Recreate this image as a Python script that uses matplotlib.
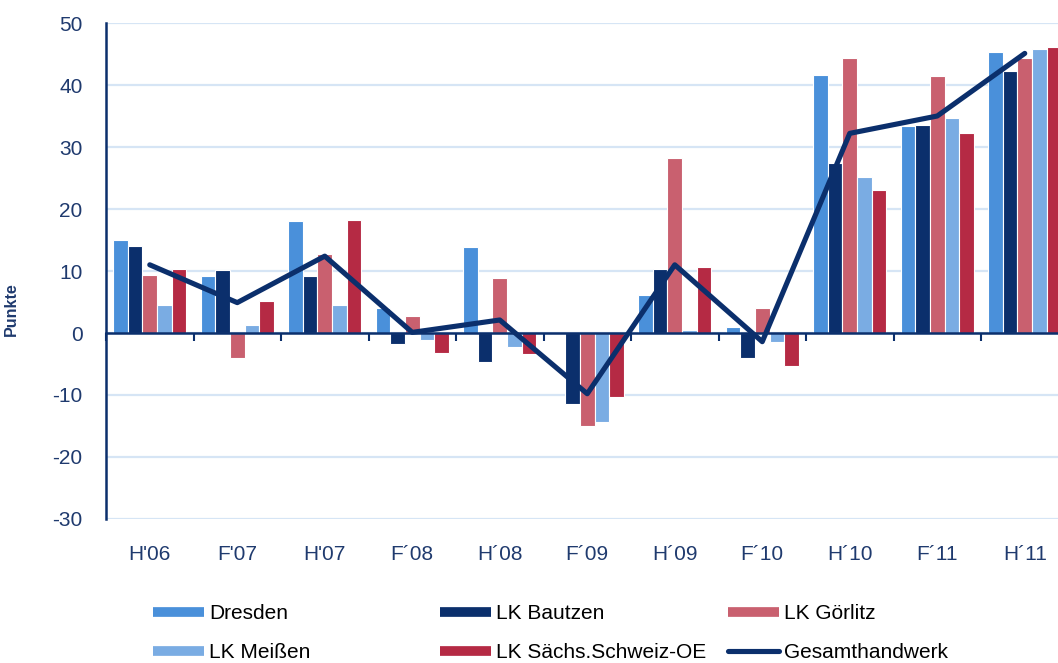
import numpy as np
import matplotlib.pyplot as plt
from matplotlib.lines import Line2D

plt.rcParams['font.family'] = ['Liberation Sans', 'DejaVu Sans']
plt.rcParams['axes.unicode_minus'] = False

# Konjunkturindikator (Punkte) je Umfrage
periods = ["H'06", "F'07", "H'07", "F´08", "H´08", "F´09", "H´09", "F´10", "H´10", "F´11", "H´11"]
dresden = [15.0, 9.2, 18.0, 4.1, 13.9, -0.2, 6.1, 0.9, 41.6, 33.4, 45.4]
bautzen = [14.1, 10.2, 9.2, -1.8, -4.7, -11.5, 10.3, -4.0, 27.5, 33.5, 42.3]
goerlitz = [9.3, -4.1, 12.8, 2.7, 8.8, -15.0, 28.3, 4.1, 44.3, 41.5, 44.3]
meissen = [4.5, 1.3, 4.5, -1.2, -2.3, -14.4, 0.5, -1.5, 25.1, 34.6, 45.8]
saechs = [10.4, 5.2, 18.2, -3.3, -3.4, -10.4, 10.6, -5.4, 23.0, 32.3, 46.2]
gesamt = [11.0, 4.9, 12.4, 0.1, 2.1, -9.8, 11.0, -1.4, 32.2, 35.0, 45.1]

bar_series = [
    ("Dresden", dresden, "#4A90DA"),
    ("LK Bautzen", bautzen, "#0B2F6C"),
    ("LK Görlitz", goerlitz, "#C9606F"),
    ("LK Meißen", meissen, "#7AACE3"),
    ("LK Sächs.Schweiz-OE", saechs, "#B52A44"),
]
navy = "#0B2F6C"
text_col = "#1F3A6E"
grid_col = "#D6E5F5"

fig = plt.figure(figsize=(10.58, 6.63), dpi=100)
ax = fig.add_axes([0.1002, 0.2172, 0.8998, 0.7481])

x = np.arange(len(periods))
width = 0.166
for i, (name, vals, col) in enumerate(bar_series):
    ax.bar(x + (i - 2) * width, vals, width, color=col, edgecolor='white', linewidth=0.8, zorder=2)

ax.plot(x, gesamt, color=navy, linewidth=3.7, zorder=4, solid_capstyle='round')

ylim = (-30, 50)
ax.set_ylim(*ylim)
ax.set_xlim(-0.5, 10.38)
ax.set_yticks(np.arange(-30, 51, 10))
ax.set_xticks(x)
ax.set_xticklabels(periods)
ax.tick_params(axis='both', length=0, labelsize=15, labelcolor=text_col)
ax.tick_params(axis='y', pad=17)
ax.tick_params(axis='x', pad=19)

ax.yaxis.grid(True, color=grid_col, linewidth=1.6)
ax.set_axisbelow(True)
for s in ['top', 'right', 'bottom']:
    ax.spines[s].set_visible(False)
ax.spines['left'].set_color(navy)
ax.spines['left'].set_linewidth(1.8)

ax.set_ylabel('Punkte', fontsize=11.5, fontweight='bold', color=text_col)
ax.yaxis.set_label_coords(-0.092, 0.423)

# Nulllinie mit Trennstrichen zwischen den Kategorien
zero_frac = (0 - ylim[0]) / (ylim[1] - ylim[0])
sec = ax.secondary_xaxis(zero_frac)
sec.set_xticks(np.arange(len(periods) + 1) - 0.5)
sec.tick_params(direction='out', length=6, width=1.5, color=navy, labelbottom=False, labeltop=False)
sec.spines['bottom'].set_color(navy)
sec.spines['bottom'].set_linewidth(1.8)
sec.set_zorder(3)

# Legende in drei festen Spalten
handles = [Line2D([], [], color=c, linewidth=7, solid_capstyle='butt') for _, _, c in bar_series]
handles.append(Line2D([], [], color=navy, linewidth=3.7, solid_capstyle='round'))
labels = [n for n, _, _ in bar_series] + ["Gesamthandwerk"]
col_x = [153 / 1058, 440 / 1058, 728 / 1058]
cols = [[0, 3], [1, 4], [2, 5]]
for cx, idx in zip(col_x, cols):
    fig.legend([handles[k] for k in idx], [labels[k] for k in idx],
               loc='upper left', bbox_to_anchor=(cx, 1 - 604 / 663),
               frameon=False, fontsize=15, labelcolor='black',
               handlelength=2.45, handletextpad=0.25, labelspacing=0.98,
               borderpad=0, borderaxespad=0)

fig.savefig('out.png', dpi=100)
